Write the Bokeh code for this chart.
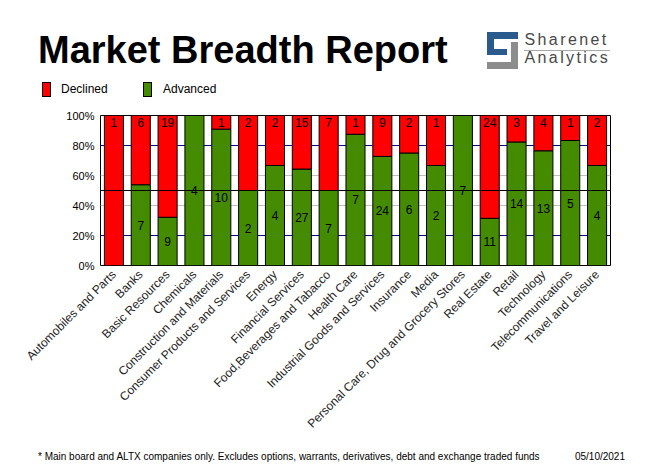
import math
import numpy as np
from bokeh.plotting import figure
from bokeh.models import (ColumnDataSource, FactorRange, Range1d, FixedTicker,
                          Grid, Span, LabelSet, Div)
from bokeh.layouts import column
from bokeh.embed import file_html
from bokeh.resources import INLINE
from bokeh.core.properties import value

# ---------------- data ----------------
categories = [
    "Automobiles and Parts", "Banks", "Basic Resources", "Chemicals",
    "Construction and Materials", "Consumer Products and Services", "Energy",
    "Financial Services", "Food,Beverages and Tabacco", "Health Care",
    "Industrial Goods and Services", "Insurance", "Media",
    "Personal Care, Drug and Grocery Stores", "Real Estate", "Retail",
    "Technology", "Telecommunications", "Travel and Leisure",
]
declined = [1, 6, 19, 0, 1, 2, 2, 15, 7, 1, 9, 2, 1, 0, 24, 3, 4, 1, 2]
advanced = [0, 7, 9, 4, 10, 2, 4, 27, 7, 7, 24, 6, 2, 7, 11, 14, 13, 5, 4]
y_ticks = [0, 20, 40, 60, 80, 100]
y_tick_labels = ["0%", "20%", "40%", "60%", "80%", "100%"]
series_names = ["Declined", "Advanced"]
title_text = "Market Breadth Report"
logo_lines = ["Sharenet", "Analytics"]
footnote = ("* Main board and ALTX companies only. Excludes options, warrants, "
            "derivatives, debt and exchange traded funds")
date_text = "05/10/2021"

RED = "#FF0000"
GREEN = "#458B00"
BLUE = "#2A5B8C"
GRAY = "#8C8C8C"
FONT = "Liberation Sans"

dec = np.array(declined, dtype=float)
adv = np.array(advanced, dtype=float)
adv_pct = adv / (adv + dec) * 100.0

src = ColumnDataSource(dict(cat=categories, adv=adv_pct))
dec_src = ColumnDataSource(dict(
    cat=[c for c, d in zip(categories, declined) if d > 0],
    y=[100] * sum(1 for d in declined if d > 0),
    txt=[str(d) for d in declined if d > 0]))
adv_src = ColumnDataSource(dict(
    cat=[c for c, a in zip(categories, advanced) if a > 0],
    y=[m for m, a in zip(adv_pct / 2.0, advanced) if a > 0],
    txt=[str(a) for a in advanced if a > 0]))

W = 640
HEAD_H = 105
FIG_H = 340
FOOT_H = 22

# ---------------- header (HTML) ----------------
def txt(left, top, text, size, family, weight="normal", color="#000",
        spacing=0, align="left", line_height="1"):
    pos = f"left:{left}px;" if align == "left" else f"right:{W - left}px;"
    return (f"<div style=\"position:absolute;{pos}top:{top:.1f}px;"
            f"font-family:'{family}';font-size:{size}px;font-weight:{weight};"
            f"line-height:{line_height};white-space:nowrap;color:{color};"
            f"letter-spacing:{spacing}px;\">{text}</div>")


def rect(l, t, r, b, color, border=False):
    bd = "border:1px solid #000;" if border else ""
    return (f"<div style=\"position:absolute;left:{l}px;top:{t}px;width:{r - l}px;"
            f"height:{b - t}px;background:{color};box-sizing:border-box;{bd}\"></div>")


parts = []
parts.append(txt(38, 63 - 0.8465 * 38, title_text, 38, FONT, weight="bold"))
# legend
parts.append(rect(42, 82, 51, 97, RED, border=True))
parts.append(rect(143, 82, 152, 97, GREEN, border=True))
parts.append(txt(61, 93 - 0.8465 * 12, series_names[0], 12, FONT))
parts.append(txt(163, 93 - 0.8465 * 12, series_names[1], 12, FONT))
# logo icon
for l, t, r, b in [(487, 32, 518, 39), (487, 32, 494, 55), (487, 49, 507, 55)]:
    parts.append(rect(l, t, r, b, BLUE))
for l, t, r, b in [(511, 42, 518, 69), (487, 62, 518, 69)]:
    parts.append(rect(l, t, r, b, GRAY))
parts.append(rect(524, 50, 610, 51, "#A8A8A8"))
parts.append(txt(524.5, 30.85, "<br>".join(logo_lines), 16, FONT,
                 color="#484848", spacing=2.4, line_height="18.6px"))

header = Div(text=f"<div style=\"position:relative;width:{W}px;height:{HEAD_H}px;"
                  f"overflow:hidden;background:#fff;\">{''.join(parts)}</div>",
             width=W, height=HEAD_H, margin=0)

# ---------------- main chart ----------------
FL, FT, FR, FB = 100, 115, 610, 265   # frame edges in page pixels
p = figure(width=W, height=FIG_H, x_range=FactorRange(factors=categories),
           y_range=Range1d(0, 100), output_backend="svg", toolbar_location=None,
           min_border_left=FL, min_border_right=W - FR,
           min_border_top=FT - HEAD_H, min_border_bottom=HEAD_H + FIG_H - FB,
           margin=0)
p.outline_line_color = "black"
p.outline_line_width = 1

p.vbar(x="cat", bottom=0, top="adv", width=0.71, fill_color=GREEN,
       line_color="black", line_width=1, source=src)
p.vbar(x="cat", bottom="adv", top=100, width=0.71, fill_color=RED,
       line_color="black", line_width=1, source=src)

p.xgrid.visible = False
p.ygrid[0].ticker = FixedTicker(ticks=[20, 80])
p.ygrid[0].grid_line_color = "#000080"
p.add_layout(Grid(dimension=1, ticker=FixedTicker(ticks=[40, 60]),
                  grid_line_color="#C0C0C0"))
p.add_layout(Span(location=50, dimension="width", line_color="black", line_width=1))

p.add_layout(LabelSet(x="cat", y="y", text="txt", source=dec_src, text_align="center",
                      text_baseline="top", y_offset=-2, text_font=value(FONT),
                      text_font_size="12px", text_color="black"))
p.add_layout(LabelSet(x="cat", y="y", text="txt", source=adv_src, text_align="center",
                      text_baseline="middle", text_font=value(FONT),
                      text_font_size="12px", text_color="black"))

p.yaxis.ticker = FixedTicker(ticks=y_ticks)
p.yaxis.major_label_overrides = {t: l for t, l in zip(y_ticks, y_tick_labels)}
p.yaxis.axis_line_color = None
p.yaxis.major_tick_line_color = None
p.yaxis.major_tick_out = 0
p.yaxis.major_tick_in = 0
p.yaxis.minor_tick_line_color = None
p.yaxis.major_label_standoff = 6
p.yaxis.major_label_text_font = FONT
p.yaxis.major_label_text_font_size = "11px"
p.yaxis.major_label_text_color = "black"

p.xaxis.axis_line_color = None
p.xaxis.major_tick_line_color = None
p.xaxis.major_tick_out = 0
p.xaxis.major_tick_in = 0
p.xaxis.major_label_orientation = math.pi / 4
p.xaxis.major_label_standoff = 7
p.xaxis.major_label_text_font = FONT
p.xaxis.major_label_text_font_size = "12px"
p.xaxis.major_label_text_color = "#222222"

# ---------------- footer (HTML) ----------------
foot_parts = [
    txt(38, 460.6 - 445 - 0.8465 * 10, footnote, 10, FONT),
    txt(625, 460.6 - 445 - 0.8465 * 10, date_text, 10, FONT, align="right"),
]
footer = Div(text=f"<div style=\"position:relative;width:{W}px;height:{FOOT_H}px;"
                  f"overflow:hidden;background:#fff;\">{''.join(foot_parts)}</div>",
             width=W, height=FOOT_H, margin=0)

layout = column(header, p, footer, spacing=0)
open("out.html", "w").write(file_html(layout, INLINE))
